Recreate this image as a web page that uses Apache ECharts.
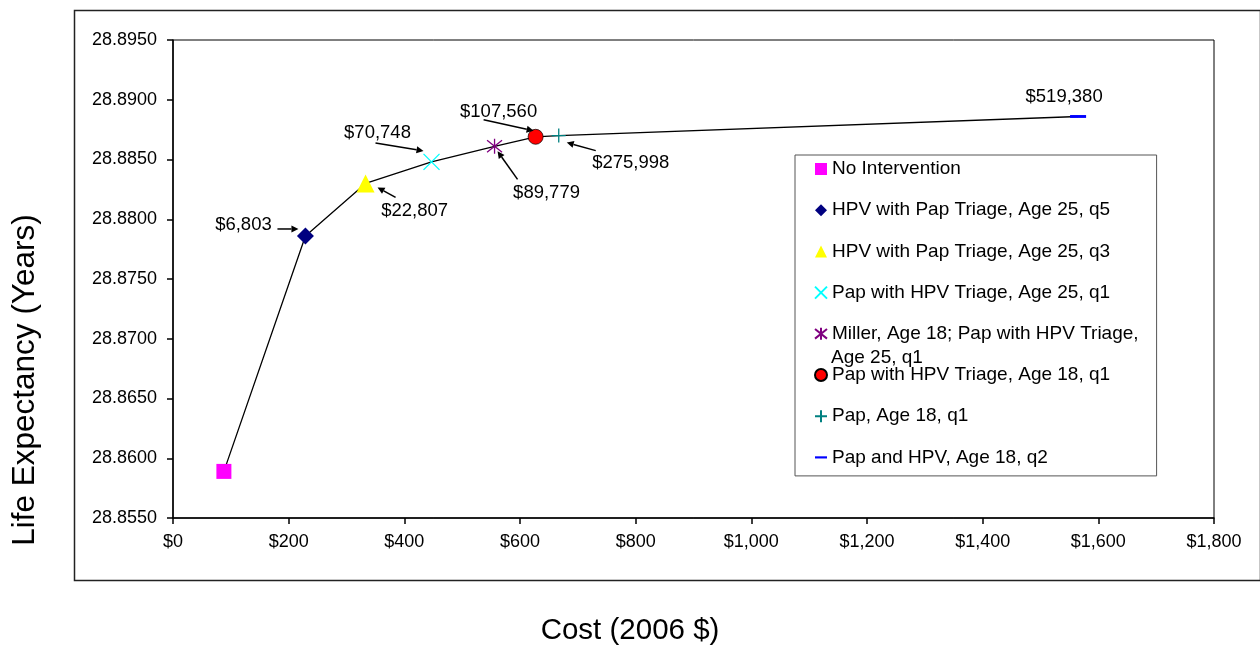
<!DOCTYPE html>
<html><head><meta charset="utf-8">
<script src="https://cdn.jsdelivr.net/npm/echarts@6/dist/echarts.min.js"></script>
<style>html,body{margin:0;padding:0;background:#fff}#c{width:1260px;height:649px}</style>
</head><body><div id="c"></div>
<script>
// ---- data ----
const seriesNames = [
  'No Intervention',
  'HPV with Pap Triage, Age 25, q5',
  'HPV with Pap Triage, Age 25, q3',
  'Pap with HPV Triage, Age 25, q1',
  'Miller, Age 18; Pap with HPV Triage, Age 25, q1',
  'Pap with HPV Triage, Age 18, q1',
  'Pap, Age 18, q1',
  'Pap and HPV, Age 18, q2'
];
const costs = [88, 229, 333, 447, 556, 627, 667, 1565];
const lifeExp = [28.8589, 28.8786, 28.8830, 28.8848, 28.8861, 28.8869, 28.8870, 28.8886];
const icerLabels = ['', '$6,803', '$22,807', '$70,748', '$89,779', '$107,560', '$275,998', '$519,380'];
const xMin = 0, xMax = 1800, xStep = 200;
const yMin = 28.855, yMax = 28.895, yStep = 0.005;
const xTitle = 'Cost (2006 $)';
const yTitle = 'Life Expectancy (Years)';

// ---- styles ----
const FONT = '"Liberation Sans", Arial, sans-serif';
const markerStyles = [
  {symbol: 'rect', symbolSize: 15, itemStyle: {color: '#FF00FF', opacity: 1}},
  {symbol: 'diamond', symbolSize: 17, itemStyle: {color: '#000080', opacity: 1}},
  {symbol: 'triangle', symbolSize: 18, itemStyle: {color: '#FFFF00', opacity: 1}},
  {symbol: 'path://M0,0L10,10M10,0L0,10', symbolSize: 16, itemStyle: {color: 'rgba(0,0,0,0)', borderColor: '#00FFFF', borderWidth: 1.3, opacity: 1}},
  {symbol: 'path://M0,1L10,9M10,1L0,9M5,0L5,10', symbolSize: 15, itemStyle: {color: 'rgba(0,0,0,0)', borderColor: '#800080', borderWidth: 1.3, opacity: 1}},
  {symbol: 'circle', symbolSize: 15, itemStyle: {color: '#FF0000', borderColor: '#000', borderWidth: 0.7, opacity: 1}},
  {symbol: 'path://M5,0L5,10M0,5L10,5', symbolSize: 14, itemStyle: {color: 'rgba(0,0,0,0)', borderColor: '#008080', borderWidth: 1.3, opacity: 1}},
  {symbol: 'path://M0,0L10,0L10,1.8L0,1.8Z', symbolSize: 16, symbolKeepAspect: true, itemStyle: {color: '#0000FF', opacity: 1}}
];
// annotation layout: pixel offsets from the data point (text centre, arrow tail, arrow head)
const annoLayout = {
  1: {text: [-62, -11], from: [-28, -7], to: [-7, -7]},
  2: {text: [49, 28], from: [30, 14], to: [12, 4]},
  3: {text: [-54, -29], from: [-56, -19], to: [-8, -11]},
  4: {text: [52, 47], from: [23, 33], to: [3, 5]},
  5: {text: [-37, -25], from: [-52, -17], to: [-2, -6]},
  6: {text: [72, 27], from: [37, 15], to: [8, 7]},
  7: {text: [-14, -20]}
};
const annoIdx = Object.keys(annoLayout).map(Number);

const chart = echarts.init(document.getElementById('c'), null, {renderer: 'canvas'});

const scatterSeries = seriesNames.map((name, i) => Object.assign({
  name: name,
  type: 'scatter',
  z: 3,
  data: [[costs[i], lifeExp[i]]],
  silent: true
}, markerStyles[i]));

const lineSeries = {
  name: '_frontier',
  type: 'line',
  z: 2,
  symbol: 'none',
  lineStyle: {color: '#000', width: 1.3},
  data: costs.map((c, i) => [c, lifeExp[i]]),
  silent: true
};

const annoSeries = {
  name: '_anno',
  type: 'custom',
  z: 4,
  clip: false,
  silent: true,
  data: annoIdx.map(i => [costs[i], lifeExp[i], i]),
  renderItem: function (params, api) {
    const idx = api.value(2);
    const p = api.coord([api.value(0), api.value(1)]);
    const o = annoLayout[idx];
    const children = [{
      type: 'text',
      x: p[0] + o.text[0], y: p[1] + o.text[1],
      style: {text: icerLabels[idx], fill: '#000', font: '18.5px ' + FONT, align: 'center', verticalAlign: 'middle'}
    }];
    if (o.from) {
      const x1 = p[0] + o.from[0], y1 = p[1] + o.from[1];
      const x2 = p[0] + o.to[0], y2 = p[1] + o.to[1];
      const dx = x2 - x1, dy = y2 - y1, len = Math.sqrt(dx * dx + dy * dy);
      const ux = dx / len, uy = dy / len;
      const hl = 7, hw = 3.5;
      const bx = x2 - ux * hl, by = y2 - uy * hl;
      children.push({type: 'line', shape: {x1: x1, y1: y1, x2: bx, y2: by}, style: {stroke: '#000', lineWidth: 1.5}});
      children.push({type: 'polygon', shape: {points: [[x2, y2], [bx - uy * hw, by + ux * hw], [bx + uy * hw, by - ux * hw]]}, style: {fill: '#000'}});
    }
    return {type: 'group', children: children};
  }
};

const millerName = seriesNames[4];
const millerSplit = millerName.indexOf('Age 25');

const option = {
  animation: false,
  backgroundColor: '#fff',
  textStyle: {fontFamily: FONT},
  grid: {left: 173, right: 46, top: 40, bottom: 131, show: true, borderColor: '#000', borderWidth: 1},
  xAxis: {
    type: 'value', min: xMin, max: xMax, interval: xStep,
    axisLine: {lineStyle: {color: '#000', width: 1.5}},
    axisTick: {show: true, length: 6, lineStyle: {color: '#000', width: 1.5}},
    axisLabel: {color: '#000', fontSize: 18, margin: 15, fontFamily: FONT,
      formatter: v => '$' + Math.round(v).toLocaleString('en-US')},
    splitLine: {show: false}
  },
  yAxis: {
    type: 'value', min: yMin, max: yMax, interval: yStep,
    axisLine: {show: true, lineStyle: {color: '#000', width: 1.5}},
    axisTick: {show: true, length: 6, lineStyle: {color: '#000', width: 1.5}},
    axisLabel: {color: '#000', fontSize: 18, margin: 16, fontFamily: FONT,
      formatter: v => v.toFixed(4)},
    splitLine: {show: false}
  },
  legend: {
    orient: 'vertical',
    left: 795, top: 155,
    padding: [4.5, 18, 9, 19],
    itemGap: 22.2,
    itemWidth: 12, itemHeight: 12,
    borderColor: '#555', borderWidth: 1,
    selectedMode: false,
    data: seriesNames,
    textStyle: {color: '#000', fontSize: 19, lineHeight: 19, fontFamily: FONT},
    formatter: function (name) {
      return name === millerName ? name.slice(0, millerSplit).trim() : name;
    }
  },
  graphic: [
    {type: 'rect', left: 72, top: 8, shape: {width: 1186, height: 570}, style: {fill: 'none', stroke: '#222', lineWidth: 1.5}, silent: true, z: 0},
    {type: 'text', x: 25, y: 380, rotation: Math.PI / 2,
      style: {text: yTitle, fill: '#000', font: '31.5px ' + FONT, align: 'center', verticalAlign: 'middle'}},
    {type: 'text', x: 630, y: 631,
      style: {text: xTitle, fill: '#000', font: '29.5px ' + FONT, align: 'center', verticalAlign: 'middle'}},
    {type: 'text', x: 831, y: 358,
      style: {text: millerName.slice(millerSplit), fill: '#000', font: '19px ' + FONT, align: 'left', verticalAlign: 'middle'}}
  ],
  series: [lineSeries].concat(scatterSeries, [annoSeries])
};
chart.setOption(option);
</script>
</body></html>
